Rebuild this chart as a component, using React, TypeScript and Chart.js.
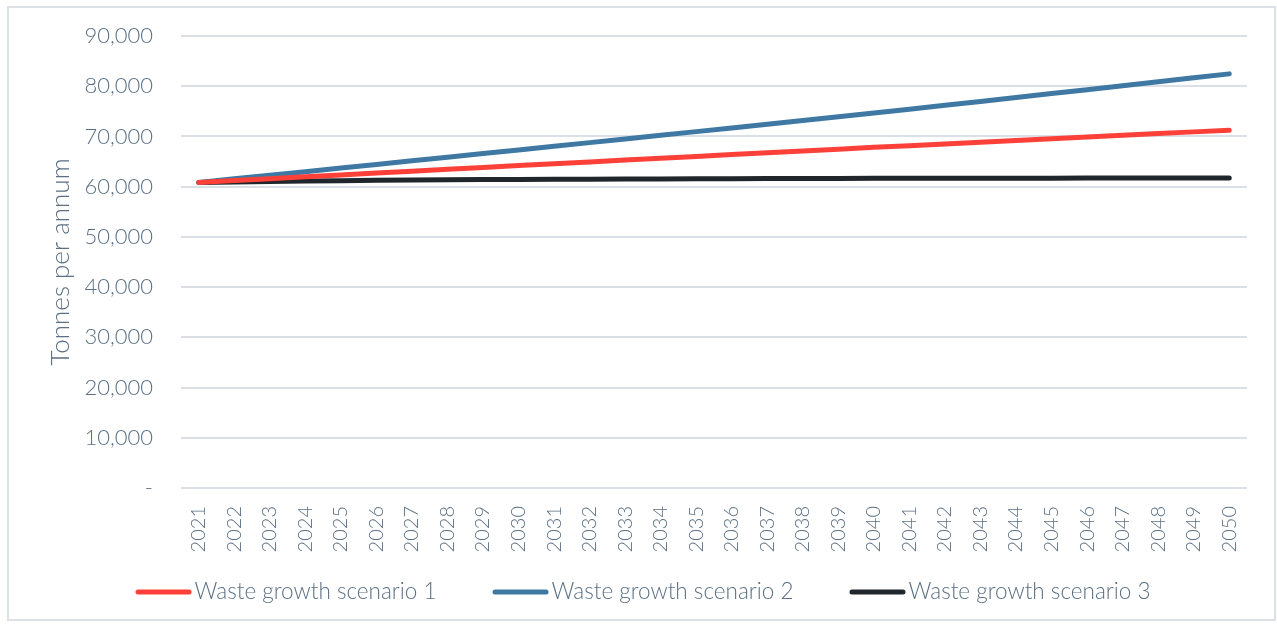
import React, { useEffect, useRef } from "react";
import { Chart, registerables } from "chart.js";

Chart.register(...registerables);

const years: string[] = [
  "2021", "2022", "2023", "2024", "2025", "2026", "2027", "2028", "2029", "2030",
  "2031", "2032", "2033", "2034", "2035", "2036", "2037", "2038", "2039", "2040",
  "2041", "2042", "2043", "2044", "2045", "2046", "2047", "2048", "2049", "2050",
];

const scenario1: number[] = [
  60850, 61220, 61590, 61960, 62330, 62700, 63070, 63450, 63830, 64200,
  64570, 64930, 65300, 65660, 66030, 66390, 66750, 67110, 67470, 67830,
  68170, 68510, 68850, 69200, 69540, 69880, 70220, 70570, 70910, 71250,
];

const scenario2: number[] = [
  60850, 61560, 62270, 62990, 63700, 64420, 65140, 65870, 66590, 67320,
  68040, 68770, 69500, 70230, 70960, 71690, 72430, 73170, 73910, 74650,
  75420, 76190, 76970, 77750, 78530, 79310, 80090, 80880, 81670, 82460,
];

const scenario3: number[] = [
  60850, 60950, 61040, 61120, 61190, 61260, 61320, 61370, 61410, 61440,
  61470, 61500, 61530, 61550, 61570, 61590, 61610, 61630, 61650, 61670,
  61680, 61690, 61700, 61700, 61700, 61710, 61710, 61710, 61710, 61710,
];

const seriesNames: string[] = [
  "Waste growth scenario 1",
  "Waste growth scenario 2",
  "Waste growth scenario 3",
];
const seriesColors: string[] = ["#fd4139", "#3f79a3", "#1f262c"];

const yTicks: number[] = [0, 10000, 20000, 30000, 40000, 50000, 60000, 70000, 80000, 90000];
const yTitle = "Tonnes per annum";

const TEXT_COLOR = "#5b7084";
const GRID_COLOR = "#dae0e6";
const FONT_FAMILY = "Lato, 'Open Sans', sans-serif";

const legendPlugin = {
  id: "bottomLineLegend",
  afterDraw(chart: any) {
    const ctx = chart.ctx as CanvasRenderingContext2D;
    const fontSize = 22.5;
    ctx.save();
    ctx.font = `300 ${fontSize}px ${FONT_FAMILY}`;
    const lineLen = 56;
    const gapText = 3;
    const itemGap = 56;
    const widths = chart.data.datasets.map(
      (ds: any) => lineLen + gapText + ctx.measureText(ds.label).width
    );
    const total =
      widths.reduce((a: number, b: number) => a + b, 0) + itemGap * (widths.length - 1);
    let x = chart.width / 2 - total / 2 + 1.5;
    const y = chart.height - 27;
    chart.data.datasets.forEach((ds: any, i: number) => {
      ctx.strokeStyle = ds.borderColor;
      ctx.lineWidth = 5;
      ctx.lineCap = "round";
      ctx.beginPath();
      ctx.moveTo(x + 2.5, y);
      ctx.lineTo(x + lineLen - 2.5, y);
      ctx.stroke();
      ctx.fillStyle = TEXT_COLOR;
      ctx.textAlign = "left";
      ctx.textBaseline = "middle";
      ctx.fillText(ds.label, x + lineLen + gapText, y);
      x += widths[i] + itemGap;
    });
    ctx.restore();
  },
};

export default function App() {
  const canvasRef = useRef<HTMLCanvasElement | null>(null);

  useEffect(() => {
    if (!canvasRef.current) return;
    const allSeries = [scenario1, scenario2, scenario3];
    const chart = new Chart(canvasRef.current, {
      type: "line",
      data: {
        labels: years,
        datasets: allSeries.map((values, i) => ({
          label: seriesNames[i],
          data: values,
          borderColor: seriesColors[i],
          backgroundColor: seriesColors[i],
          borderWidth: 5,
          borderCapStyle: "round" as const,
          borderJoinStyle: "round" as const,
          pointRadius: 0,
          pointHoverRadius: 0,
          tension: 0,
          fill: false,
        })),
      },
      plugins: [legendPlugin],
      options: {
        responsive: false,
        animation: false,
        events: [],
        layout: { padding: { left: 30, right: 27, top: 28, bottom: 62 } },
        plugins: {
          legend: { display: false },
          tooltip: { enabled: false },
        },
        scales: {
          x: {
            offset: true,
            grid: { display: false, drawTicks: false },
            border: { display: false },
            ticks: {
              color: TEXT_COLOR,
              font: { family: FONT_FAMILY, size: 20, weight: "300" as any },
              minRotation: 90,
              maxRotation: 90,
              autoSkip: false,
              padding: 18,
            },
            afterFit(scale: any) {
              scale.height = 69;
            },
          },
          y: {
            min: 0,
            max: 90000,
            afterBuildTicks(scale: any) {
              scale.ticks = yTicks.map((v) => ({ value: v }));
            },
            grid: { color: GRID_COLOR, lineWidth: 2, drawTicks: false },
            border: { display: false },
            ticks: {
              color: TEXT_COLOR,
              font: { family: FONT_FAMILY, size: 22, weight: "300" as any },
              padding: 28,
              callback: (v: any) => (Number(v) === 0 ? "-" : Number(v).toLocaleString("en-US")),
            },
            title: {
              display: true,
              text: yTitle,
              color: TEXT_COLOR,
              font: { family: FONT_FAMILY, size: 26, weight: "300" as any },
              padding: { top: 6, bottom: 0 },
            },
            afterFit(scale: any) {
              scale.width = 142;
              scale.paddingTop = 0;
              scale.paddingBottom = 0;
            },
          },
        },
      },
    });
    return () => chart.destroy();
  }, []);

  return (
    <div
      style={{
        position: "absolute",
        left: 7,
        top: 6,
        width: 1269,
        height: 615,
        border: "2px solid #dbe1e7",
        boxSizing: "border-box",
        background: "#ffffff",
      }}
    >
      <canvas ref={canvasRef} width={1265} height={611} style={{ display: "block" }} />
    </div>
  );
}
